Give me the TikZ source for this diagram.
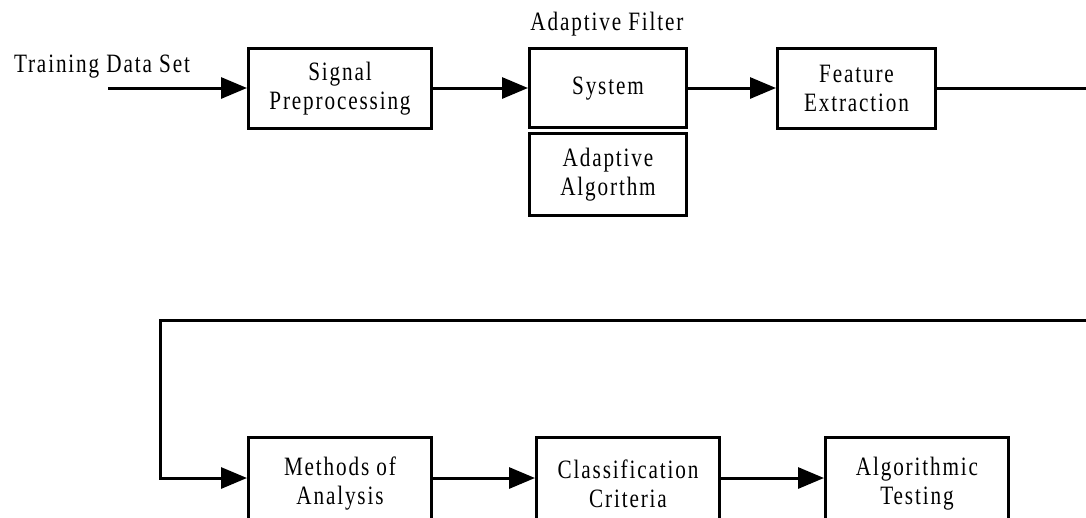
\documentclass[tikz,border=0pt]{standalone}
\usepackage{fontspec}
\setmainfont{Liberation Serif}[FakeStretch=0.8,LetterSpace=7]
\usetikzlibrary{arrows.meta}
\tikzset{
  blk/.style={draw, line width=3pt, rectangle, align=center,
    inner sep=0pt, font=\fontsize{26.5}{29}\selectfont},
  flow/.style={line width=3pt, -{Triangle[length=26pt,width=21pt]}},
  wire/.style={line width=3pt},
  lbl/.style={inner sep=0pt, font=\fontsize{26.5}{29}\selectfont}
}
\begin{document}
\begin{tikzpicture}[x=1pt,y=-1pt]
  \useasboundingbox (0,0) rectangle (1086,517);
  \clip (0,0) rectangle (1086,517);
  % upper chain
  \node[blk, minimum width=183pt, minimum height=80pt] (sig) at (340,88.5) {Signal\\Preprocessing};
  \node[blk, minimum width=157pt, minimum height=79.2pt] (sys) at (608,88.1) {System};
  \node[blk, minimum width=157pt, minimum height=82.2pt] (alg) at (608,174.4) {Adaptive\\Algorthm};
  \node[lbl] (af) at (607,24) {Adaptive Filter};
  \node[blk, minimum width=158pt, minimum height=80pt] (feat) at (856.5,88.5) {Feature\\Extraction};
  \node[lbl] (tds) at (102,67) {Training Data Set};
  % lower chain (runs past the bottom edge)
  \node[blk, minimum width=183pt, minimum height=93pt] (meth) at (340,484) {Methods of\\Analysis};
  \node[blk, minimum width=183pt, minimum height=93pt] (cls) at (628,484) {Classification\\Criteria};
  \node[blk, minimum width=183pt, minimum height=93pt] (algt) at (917,484) {Algorithmic\\Testing};
  % free ends and rows of the connectors
  \coordinate (in) at (108,88);
  \coordinate (outR) at (1090,88);
  \coordinate (retR) at (1090,320);
  \coordinate (retL) at (160,320);
  \coordinate (row) at (0,478);
  % connectors
  \draw[flow] (in) -- (sig.west |- in);
  \draw[flow] (sig.east |- in) -- (sys.west |- in);
  \draw[flow] (sys.east |- in) -- (feat.west |- in);
  \draw[wire] (feat.east |- in) -- (outR);
  \draw[flow] (retR) -- (retL) -- (retL |- row) -- (meth.west |- row);
  \draw[flow] (meth.east |- row) -- (cls.west |- row);
  \draw[flow] (cls.east |- row) -- (algt.west |- row);
\end{tikzpicture}
\end{document}
